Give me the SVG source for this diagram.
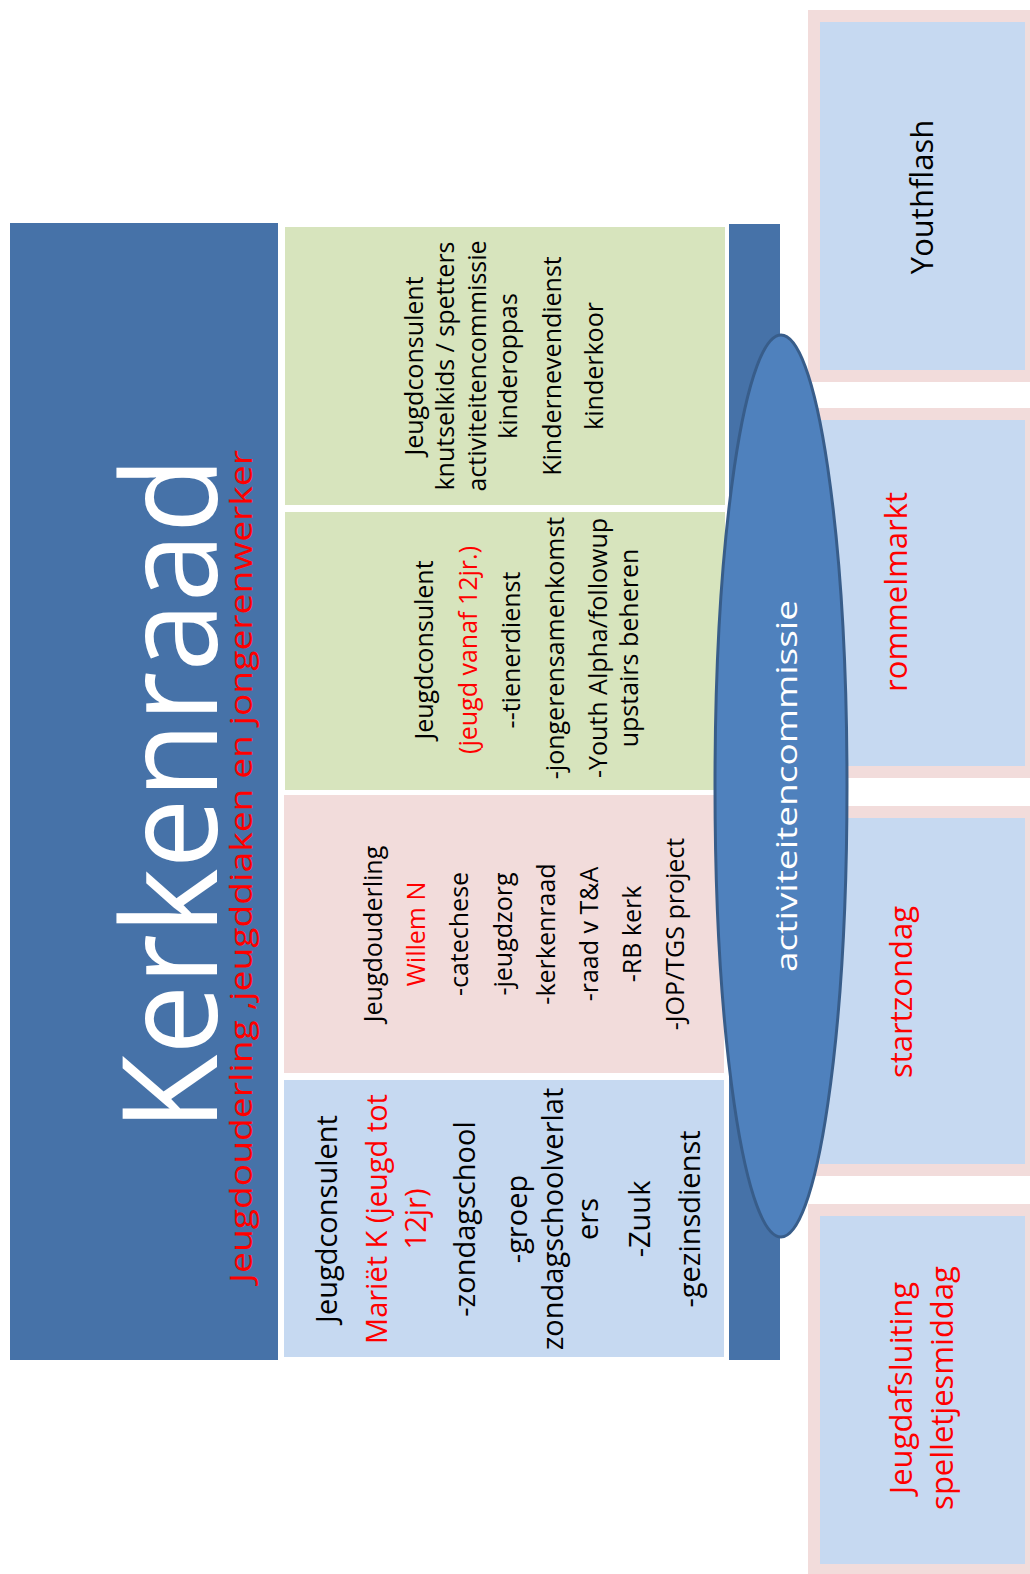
<svg xmlns="http://www.w3.org/2000/svg" width="1030" height="1574" viewBox="0 0 1030 1574">
<style>
  text { font-family: "Open Sans", "Liberation Sans", sans-serif; }
  .dark { fill: #4672a8; }
  .green { fill: #d7e4bd; }
  .pink { fill: #f2dcdb; }
  .lblue { fill: #c6d9f1; }
  .k { fill: #000000; }
  .r { fill: #ff0000; }
  .w { fill: #ffffff; }
  .mid { text-anchor: middle; }
  .s29 { font-size: 29px; }
  .s25 { font-size: 25px; }
  .s31 { font-size: 31px; }
</style>
<rect x="0" y="0" width="1030" height="1574" fill="#ffffff"/>

<g id="kerkenraad">
  <rect class="dark" x="10" y="223" width="268" height="1137"/>
  <g transform="rotate(-90)">
    <text class="w" x="-1131" y="217" font-size="132" textLength="674" lengthAdjust="spacingAndGlyphs">Kerkenraad</text>
    <text class="r" x="-1283" y="252" font-size="31" textLength="833" lengthAdjust="spacingAndGlyphs">Jeugdouderling ,jeugddiaken en jongerenwerker</text>
  </g>
</g>

<g id="strip">
  <rect class="dark" x="729" y="224" width="51" height="1136"/>
</g>

<g id="box-kinderen">
  <rect class="green" x="285" y="227" width="440" height="278"/>
  <g transform="rotate(-90)" class="k s25 mid">
    <text x="-366" y="423">Jeugdconsulent</text>
    <text x="-366" y="454">knutselkids / spetters</text>
    <text x="-366" y="486">activiteitencommissie</text>
    <text x="-366" y="517">kinderoppas</text>
    <text x="-366" y="561">Kindernevendienst</text>
    <text x="-366" y="603">kinderkoor</text>
  </g>
</g>

<g id="box-jeugd-vanaf-12">
  <rect class="green" x="285" y="512" width="440" height="278"/>
  <g transform="rotate(-90)" class="k s25 mid">
    <text x="-650" y="433">Jeugdconsulent</text>
    <text x="-650" y="477" class="r">(jeugd vanaf 12jr.)</text>
    <text x="-650" y="520">--tienerdienst</text>
    <text x="-648" y="564">-jongerensamenkomst</text>
    <text x="-648" y="607">-Youth Alpha/followup</text>
    <text x="-648" y="638">upstairs beheren</text>
  </g>
</g>

<g id="box-jeugdouderling">
  <rect class="pink" x="284" y="795" width="440" height="278"/>
  <g transform="rotate(-90)" class="k s25 mid">
    <text x="-934" y="382">Jeugdouderling</text>
    <text x="-934" y="425" class="r">Willem N</text>
    <text x="-934" y="468">-catechese</text>
    <text x="-934" y="512">-jeugdzorg</text>
    <text x="-934" y="555">-kerkenraad</text>
    <text x="-934" y="598">-raad v T&amp;A</text>
    <text x="-934" y="641">-RB kerk</text>
    <text x="-934" y="684">-JOP/TGS project</text>
  </g>
</g>

<g id="box-jeugd-tot-12">
  <rect class="lblue" x="284" y="1080" width="440" height="277"/>
  <g transform="rotate(-90)" class="k s29 mid">
    <text x="-1219" y="337">Jeugdconsulent</text>
    <text x="-1219" y="387" class="r">Mariët K (jeugd tot</text>
    <text x="-1219" y="426" class="r">12jr)</text>
    <text x="-1219" y="475">-zondagschool</text>
    <text x="-1219" y="527">-groep</text>
    <text x="-1219" y="563">zondagschoolverlat</text>
    <text x="-1219" y="598">ers</text>
    <text x="-1219" y="650">-Zuuk</text>
    <text x="-1219" y="700">-gezinsdienst</text>
  </g>
</g>

<g id="youthflash">
  <rect class="pink" x="808" y="10" width="222" height="372"/>
  <rect class="lblue" x="820" y="22" width="205" height="348"/>
  <g transform="rotate(-90)" class="s31 mid k">
    <text x="-197" y="933">Youthflash</text>
  </g>
</g>

<g id="rommelmarkt">
  <rect class="pink" x="808" y="408" width="222" height="370"/>
  <rect class="lblue" x="820" y="420" width="205" height="346"/>
  <g transform="rotate(-90)" class="s31 mid r">
    <text x="-592" y="907">rommelmarkt</text>
  </g>
</g>

<g id="startzondag">
  <rect class="pink" x="808" y="806" width="222" height="370"/>
  <rect class="lblue" x="820" y="818" width="205" height="346"/>
  <g transform="rotate(-90)" class="s31 mid r">
    <text x="-992" y="912">startzondag</text>
  </g>
</g>

<g id="jeugdafsluiting">
  <rect class="pink" x="808" y="1204" width="222" height="370"/>
  <rect class="lblue" x="820" y="1216" width="205" height="348"/>
  <g transform="rotate(-90)" class="s31 mid r">
    <text x="-1388" y="912">Jeugdafsluiting</text>
    <text x="-1388" y="953">spelletjesmiddag</text>
  </g>
</g>

<g id="activiteitencommissie">
  <ellipse cx="781" cy="786" rx="66" ry="451" fill="#4f81bd" stroke="#385d8a" stroke-width="3"/>
  <g transform="rotate(-90)">
    <text class="w" x="-972" y="797" font-size="29" textLength="372" lengthAdjust="spacingAndGlyphs">activiteitencommissie</text>
  </g>
</g>

<g id="connectors"/>
</svg>
